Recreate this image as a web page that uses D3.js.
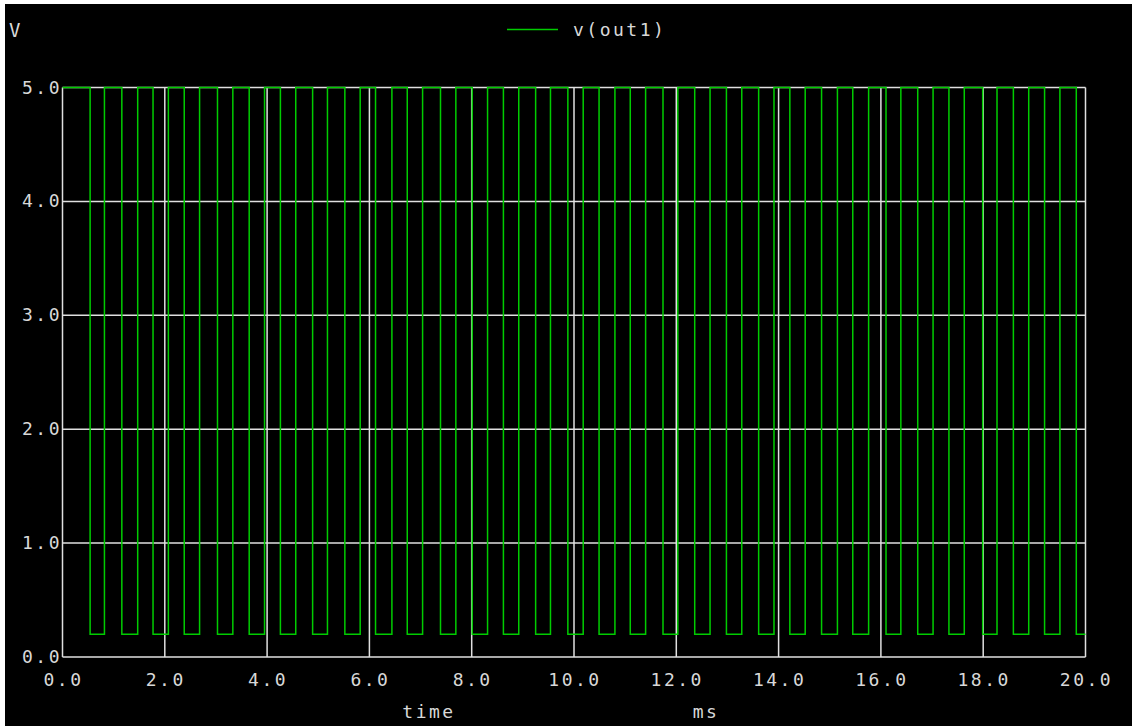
<!DOCTYPE html>
<html>
<head>
<meta charset="utf-8">
<script src="https://cdn.jsdelivr.net/npm/d3@7"></script>
<style>
  html, body { margin: 0; padding: 0; background: #ffffff; }
  svg { display: block; }
  text { font-family: "DejaVu Sans Mono", "Liberation Mono", monospace; fill: #d8d8d8; }
</style>
</head>
<body>
<svg id="chart" width="1132" height="726"></svg>
<script>
// Transient result of v(out1): voltage switches between the high and low rail.
// Times (ms) where the output drops low and where it returns high.
const lowStart = [0.54, 1.16, 1.77, 2.38, 3.03, 3.65, 4.26, 4.89, 5.52, 6.12,
                  6.74, 7.39, 8.01, 8.62, 9.25, 9.88, 10.49, 11.10, 11.74, 12.36,
                  12.98, 13.61, 14.22, 14.84, 15.45, 16.10, 16.72, 17.33, 17.99, 18.59,
                  19.20, 19.82];
const lowEnd   = [0.82, 1.47, 2.07, 2.68, 3.33, 3.95, 4.56, 5.18, 5.82, 6.44,
                  7.04, 7.69, 8.31, 8.92, 9.54, 10.18, 10.80, 11.40, 12.03, 12.66,
                  13.28, 13.91, 14.52, 15.15, 15.76, 16.39, 17.02, 17.63, 18.27, 18.89,
                  19.50];
const highLevel = 5.0;
const lowLevel = 0.2;
const tEnd = 20.0;

const xTicks = [0, 2, 4, 6, 8, 10, 12, 14, 16, 18, 20];
const yTicks = [0, 1, 2, 3, 4, 5];
const seriesName = "v(out1)";

// Step-after transition list: [time, voltage]
const wave = [[0, highLevel]];
lowStart.forEach((s, i) => {
  wave.push([s, lowLevel]);
  if (i < lowEnd.length) wave.push([lowEnd[i], highLevel]);
});
wave.push([tEnd, wave[wave.length - 1][1]]);

const svg = d3.select("#chart");

// dark canvas
svg.append("rect").attr("x", 5).attr("y", 4).attr("width", 1127).attr("height", 722).attr("fill", "#000");

const x = d3.scaleLinear().domain([0, 20]).range([62.5, 1085.5]);
const y = d3.scaleLinear().domain([0, 5]).range([657, 87.5]);

const gridColor = "#e0e0e0";
const grid = svg.append("g");
grid.selectAll("line.v").data(xTicks).join("line")
  .attr("x1", d => x(d)).attr("x2", d => x(d))
  .attr("y1", y(5)).attr("y2", y(0))
  .attr("stroke", gridColor).attr("stroke-width", 1.5);
grid.selectAll("line.h").data(yTicks).join("line")
  .attr("x1", x(0)).attr("x2", x(20))
  .attr("y1", d => y(d)).attr("y2", d => y(d))
  .attr("stroke", gridColor).attr("stroke-width", 1.5);

// tick labels
svg.append("g").selectAll("text").data(xTicks).join("text")
  .attr("x", d => x(d) + 1).attr("y", 686)
  .attr("text-anchor", "middle")
  .style("font-size", "18px").style("letter-spacing", "2.5px")
  .text(d => d3.format(".1f")(d));
svg.append("g").selectAll("text").data(yTicks).join("text")
  .attr("x", 62).attr("y", d => y(d) + 6)
  .attr("text-anchor", "end")
  .style("font-size", "18px").style("letter-spacing", "2.5px")
  .text(d => d3.format(".1f")(d));

// axis titles
svg.append("text").attr("x", 9).attr("y", 37).style("font-size", "19px").text("V");
svg.append("text").attr("x", 429).attr("y", 718).attr("text-anchor", "middle")
  .style("font-size", "18px").style("letter-spacing", "2.5px").text("time");
svg.append("text").attr("x", 706).attr("y", 718).attr("text-anchor", "middle")
  .style("font-size", "18px").style("letter-spacing", "2.5px").text("ms");

// legend
svg.append("line").attr("x1", 507).attr("x2", 558).attr("y1", 29.5).attr("y2", 29.5)
  .attr("stroke", "#00cc00").attr("stroke-width", 1.5);
svg.append("text").attr("x", 573).attr("y", 36)
  .style("font-size", "18px").style("letter-spacing", "2.5px").text(seriesName);

// waveform
const line = d3.line().x(d => x(d[0])).y(d => y(d[1])).curve(d3.curveStepAfter);
svg.append("path").datum(wave)
  .attr("d", line)
  .attr("fill", "none")
  .attr("stroke", "#00cc00")
  .attr("stroke-width", 1.5);
</script>
</body>
</html>
